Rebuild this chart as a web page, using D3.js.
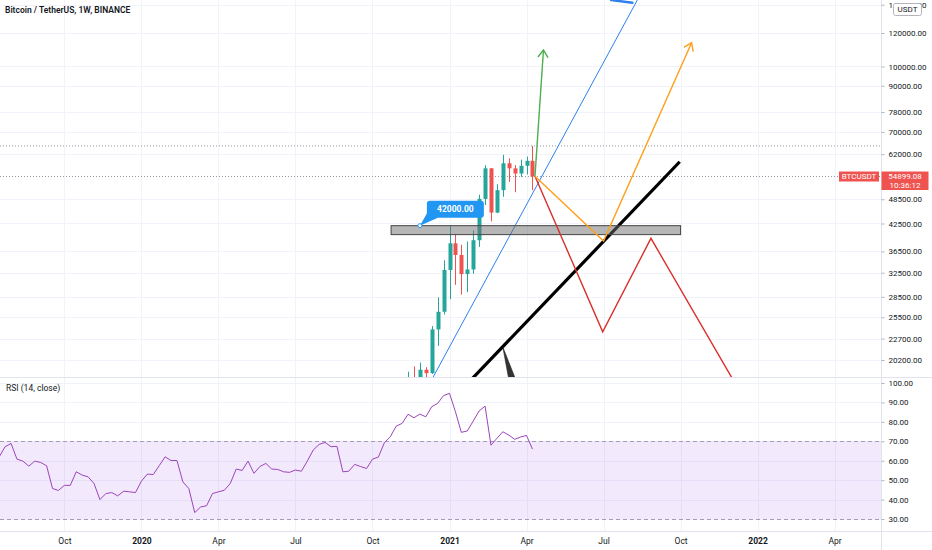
<!DOCTYPE html>
<html>
<head>
<meta charset="utf-8">
<script src="https://cdn.jsdelivr.net/npm/d3@7"></script>
<style>
  body { margin: 0; background: #fff; }
  svg { display: block; font-family: Roboto, "Noto Sans", sans-serif; }
</style>
</head>
<body>
<svg id="chart" width="932" height="550"></svg>
<script>
//---------------------DATA--------------------------------

// weekly candles BTCUSDT (only the ones that reach into the visible price range)
var candleDates = ['2020-11-16','2020-11-23','2020-11-30','2020-12-07','2020-12-14','2020-12-21','2020-12-28',
  '2021-01-04','2021-01-11','2021-01-18','2021-01-25','2021-02-01','2021-02-08','2021-02-15','2021-02-22',
  '2021-03-01','2021-03-08','2021-03-15','2021-03-22','2021-03-29','2021-04-05','2021-04-12'];
var candleOpen  = [15955,18414,18178,19155,18806,23861,26272,33000,38150,35800,32260,33090,38800,48600,57400,45100,50970,59000,57400,55800,58200,59800];
var candleHigh  = [18950,19500,19916,19420,24300,28422,34778,41950,40100,37850,38530,40955,49700,58350,57500,52640,61800,60600,58400,60200,61200,64854];
var candleLow   = [15800,16200,18110,17650,18720,21815,25880,28130,30420,28850,29240,32300,37400,47000,43000,44950,49150,53300,50400,54800,55500,51000];
var candleClose = [18414,18178,19155,18806,23861,26272,33000,38150,35800,32260,33090,38800,48600,57400,45100,50970,59000,57400,55800,58200,59800,54899.08];

var lastPrice = 54899.08;
var lastHigh = 64854;

// RSI(14) weekly, last value on the week of 2021-04-12
var rsiEndDate = '2021-04-12';
var rsiValues = [62,67.2,68.9,60.8,59.8,57.2,59.8,59.1,57.4,45.7,
  44.7,47.3,47.3,54.3,52.6,51.7,48.3,40,43.1,43.6,
  41.9,44.3,44,43.6,49.5,53.1,52.9,57.4,62,60.1,
  60.1,49.1,45.7,33.3,36.2,36.8,43.1,44,44.8,48.3,
  55.7,55,59.8,53.5,57,58.6,55.7,55.5,54.3,54,
  55.2,54.6,59.8,65.5,68.4,69.4,67.2,67.4,54.3,54.6,
  58.1,57,56,60.8,61.9,69.2,72.3,77.8,79.2,83.9,
  82.1,84,82.6,87.8,89.5,93.5,94.7,85.2,74.6,75.3,
  80.4,85.6,88.1,68,71.5,74.9,73.2,71,72.2,73,
  66];

// axis ticks
var priceTicks = [140000,120000,100000,90000,78000,70000,62000,48500,42500,36500,32500,28500,25500,22700,20200];
var rsiTicks = [100,90,80,70,60,50,40,30];
var timeTickDates = ['2019-10-07','2020-01-06','2020-04-06','2020-07-06','2020-10-05','2021-01-04','2021-04-05','2021-07-05','2021-10-04','2022-01-03','2022-04-04'];
var timeTickLabels = ['Oct','2020','Apr','Jul','Oct','2021','Apr','Jul','Oct','2022','Apr'];

// drawings, as [date, price]
var zoneDates = ['2020-10-27','2021-10-04'];
var zonePrices = [42000, 40000];
var calloutPoint = ['2020-11-30', 42000];
var calloutText = '42000.00';
var blueTrend = [['2020-12-01',16240],['2021-08-19',150000]];
var blueMark = [['2021-07-14',143600],['2021-08-08',141500]];
var greenArrow = [['2021-04-15',55000],['2021-04-25',109400]];
var orangeArrow = [['2021-04-15',55000],['2021-07-05',38620],['2021-10-17',113800]];
var redPath = [['2021-04-15',55000],['2021-07-04',23560],['2021-08-30',39200],['2022-01-05',14170]];
var blackTrend = [['2021-01-07',16270],['2021-10-03',59500]];
var blackWedge = [['2021-03-08',21680],['2021-03-15',18200],['2021-03-23',18200]];

//---------------------LAYOUT / SCALES--------------------------------

var W = 932, H = 550;
var axisX = 881.5, paneBottom = 377.5, rsiBottom = 531.5;
var parse = d3.utcParse('%Y-%m-%d');

var x = d3.scaleUtc()
  .domain([parse('2021-01-04'), parse('2022-01-03')])
  .range([449.5, 449.5 + 52 * 5.925]);
var y = d3.scaleLog().domain([120000, 20200]).range([33, 360]);
var yRsi = d3.scaleLinear().domain([100, 30]).range([383, 519]);

var svg = d3.select('#chart');
var pt = function(d) { return [x(parse(d[0])), y(d[1])]; };

var defs = svg.append('defs');
defs.append('clipPath').attr('id', 'pricePane')
  .append('rect').attr('x', 0).attr('y', 0).attr('width', axisX).attr('height', paneBottom);
defs.append('clipPath').attr('id', 'rsiPane')
  .append('rect').attr('x', 0).attr('y', paneBottom).attr('width', axisX).attr('height', rsiBottom - paneBottom);

//---------------------GRID--------------------------------

var grid = svg.append('g').attr('stroke', '#f0f3fa').attr('stroke-width', 1);
grid.selectAll('.vg').data(timeTickDates).join('line').attr('class', 'vg')
  .attr('x1', d => Math.round(x(parse(d))) + 0.5).attr('x2', d => Math.round(x(parse(d))) + 0.5)
  .attr('y1', 0).attr('y2', rsiBottom);
grid.selectAll('.hg').data(priceTicks).join('line').attr('class', 'hg')
  .attr('x1', 0).attr('x2', axisX)
  .attr('y1', d => Math.round(y(d)) + 0.5).attr('y2', d => Math.round(y(d)) + 0.5);
grid.selectAll('.rg').data(rsiTicks).join('line').attr('class', 'rg')
  .attr('x1', 0).attr('x2', axisX)
  .attr('y1', d => Math.round(yRsi(d)) + 0.5).attr('y2', d => Math.round(yRsi(d)) + 0.5);

//---------------------PRICE PANE--------------------------------

var price = svg.append('g').attr('clip-path', 'url(#pricePane)');

// dotted high line and last price line
price.append('line').attr('x1', 0).attr('x2', axisX)
  .attr('y1', y(lastHigh)).attr('y2', y(lastHigh))
  .attr('stroke', '#9598a1').attr('stroke-dasharray', '1,2');
price.append('line').attr('x1', 0).attr('x2', axisX)
  .attr('y1', y(lastPrice)).attr('y2', y(lastPrice))
  .attr('stroke', '#9598a1').attr('stroke-dasharray', '1,2');

var candles = candleDates.map(function(d, i) {
  return { date: parse(d), o: candleOpen[i], h: candleHigh[i], l: candleLow[i], c: candleClose[i] };
});
var colorOf = d => d.c >= d.o ? '#26a69a' : '#ef5350';

price.selectAll('.wick').data(candles).join('line').attr('class', 'wick')
  .attr('x1', d => Math.round(x(d.date)) + 0.5).attr('x2', d => Math.round(x(d.date)) + 0.5)
  .attr('y1', d => y(d.h)).attr('y2', d => y(d.l))
  .attr('stroke', colorOf);
price.selectAll('.body').data(candles).join('rect').attr('class', 'body')
  .attr('x', d => Math.round(x(d.date)) - 1.5).attr('width', 4)
  .attr('y', d => Math.min(y(d.o), y(d.c)))
  .attr('height', d => Math.max(1, Math.abs(y(d.o) - y(d.c))))
  .attr('fill', colorOf);

// blue trend line
var line = d3.line();
price.append('path').attr('d', line(blueTrend.map(pt)))
  .attr('fill', 'none').attr('stroke', '#2f80ed').attr('stroke-width', 1);
price.append('path').attr('d', line(blueMark.map(pt)))
  .attr('fill', 'none').attr('stroke', '#2f80ed').attr('stroke-width', 2.5).attr('stroke-linecap', 'round');

// black trend line + wedge
price.append('path').attr('d', line(blackTrend.map(pt)))
  .attr('fill', 'none').attr('stroke', '#000').attr('stroke-width', 3.2);
price.append('path').attr('d', line(blackWedge.map(pt)) + 'Z')
  .attr('fill', '#333').attr('stroke', '#222').attr('stroke-width', 0.6);

// support zone
price.append('rect')
  .attr('x', x(parse(zoneDates[0]))).attr('width', x(parse(zoneDates[1])) - x(parse(zoneDates[0])))
  .attr('y', y(zonePrices[0])).attr('height', y(zonePrices[1]) - y(zonePrices[0]))
  .attr('fill', 'rgba(110,110,110,0.5)').attr('stroke', '#444').attr('stroke-width', 1);

// scenario paths
function arrowHead(p0, p1, len) {
  var a = Math.atan2(p1[1] - p0[1], p1[0] - p0[0]);
  return [[p1[0] - len * Math.cos(a - 0.6), p1[1] - len * Math.sin(a - 0.6)], p1,
          [p1[0] - len * Math.cos(a + 0.6), p1[1] - len * Math.sin(a + 0.6)]];
}
function drawArrow(points, color, head) {
  var p = points.map(pt);
  price.append('path').attr('d', line(p))
    .attr('fill', 'none').attr('stroke', color).attr('stroke-width', 1.4).attr('stroke-linejoin', 'miter');
  if (head) {
    price.append('path').attr('d', line(arrowHead(p[p.length - 2], p[p.length - 1], 9)))
      .attr('fill', 'none').attr('stroke', color).attr('stroke-width', 1.4);
  }
}
drawArrow(redPath, '#d9302c', false);
drawArrow(orangeArrow, '#ff9f1a', true);
drawArrow(greenArrow, '#4caf50', true);

// callout
var cp = pt(calloutPoint);
var callout = price.append('g').attr('transform', 'translate(' + cp[0] + ',' + cp[1] + ')');
callout.append('path').attr('d', 'M0,0L8,-14L18,-8Z').attr('fill', '#2196f3');
callout.append('rect').attr('x', 7).attr('y', -25).attr('width', 57).attr('height', 17)
  .attr('rx', 3).attr('fill', '#2196f3');
callout.append('text').attr('x', 35.5).attr('y', -16.5).attr('dy', '0.35em')
  .attr('text-anchor', 'middle').attr('fill', '#fff').attr('font-size', 8.5).attr('font-weight', 700)
  .text(calloutText);
callout.append('circle').attr('r', 2).attr('fill', '#fff').attr('stroke', '#2196f3').attr('stroke-width', 1);

//---------------------RSI PANE--------------------------------

var rsi = svg.append('g').attr('clip-path', 'url(#rsiPane)');
rsi.append('rect').attr('x', 0).attr('width', axisX)
  .attr('y', yRsi(70)).attr('height', yRsi(30) - yRsi(70))
  .attr('fill', 'rgba(149,76,233,0.12)');
rsi.selectAll('.band').data([70, 30]).join('line').attr('class', 'band')
  .attr('x1', 0).attr('x2', axisX)
  .attr('y1', d => Math.round(yRsi(d)) + 0.5).attr('y2', d => Math.round(yRsi(d)) + 0.5)
  .attr('stroke', '#a99bb8').attr('stroke-dasharray', '4,3');

var rsiEnd = parse(rsiEndDate);
var n = rsiValues.length;
var rsiLine = d3.line()
  .x((d, i) => x(d3.utcWeek.offset(rsiEnd, i - n + 1)))
  .y(d => yRsi(d));
rsi.append('path').attr('d', rsiLine(rsiValues))
  .attr('fill', 'none').attr('stroke', '#9b45b8').attr('stroke-width', 1);

svg.append('text').attr('x', 6).attr('y', 388.5).attr('dy', '0.35em')
  .attr('font-size', 8.5).attr('fill', '#131722').text('RSI (14, close)');

//---------------------SEPARATORS & AXES--------------------------------

var sep = svg.append('g').attr('stroke', '#e0e3eb');
sep.append('line').attr('x1', axisX).attr('x2', axisX).attr('y1', 0).attr('y2', H);
sep.append('line').attr('x1', 0).attr('x2', W).attr('y1', paneBottom).attr('y2', paneBottom);
sep.append('line').attr('x1', 0).attr('x2', W).attr('y1', rsiBottom).attr('y2', rsiBottom);

function styleAxis(g) {
  g.select('.domain').remove();
  g.selectAll('.tick line').attr('stroke', '#b2b5be');
  g.selectAll('.tick text').attr('fill', '#131722').attr('font-size', 8)
    .attr('font-family', 'Roboto, "Noto Sans", sans-serif');
}

svg.append('g').attr('transform', 'translate(' + axisX + ',0)')
  .call(d3.axisRight(y).tickValues(priceTicks).tickFormat(d3.format('.2f')).tickSize(3).tickPadding(4))
  .call(styleAxis);

svg.append('g').attr('transform', 'translate(' + axisX + ',0)')
  .call(d3.axisRight(yRsi).tickValues(rsiTicks).tickFormat(d3.format('.2f')).tickSize(3).tickPadding(4))
  .call(styleAxis);

svg.append('g').attr('transform', 'translate(0,' + rsiBottom + ')')
  .call(d3.axisBottom(x).tickValues(timeTickDates.map(parse))
    .tickFormat((d, i) => timeTickLabels[i]).tickSize(0).tickPadding(6))
  .call(styleAxis)
  .call(g => g.selectAll('.tick text').attr('font-size', 8.5)
    .attr('font-weight', (d, i) => /^\d{4}$/.test(timeTickLabels[i]) ? 700 : 400));

//---------------------LABELS--------------------------------

// USDT unit box
svg.append('rect').attr('x', 893.5).attr('y', 3.5).attr('width', 28).attr('height', 12)
  .attr('rx', 2).attr('fill', '#fff').attr('stroke', '#b2b5be');
svg.append('text').attr('x', 907.5).attr('y', 9.5).attr('dy', '0.35em').attr('text-anchor', 'middle')
  .attr('font-size', 8).attr('fill', '#131722').text('USDT');

// last price labels
var ly = y(lastPrice);
svg.append('rect').attr('x', 839).attr('y', ly - 5).attr('width', 40).attr('height', 10).attr('fill', '#ef5350');
svg.append('text').attr('x', 859).attr('y', ly).attr('dy', '0.35em').attr('text-anchor', 'middle')
  .attr('font-size', 8).attr('fill', '#fff').text('BTCUSDT');
svg.append('rect').attr('x', axisX).attr('y', ly - 5).attr('width', 47).attr('height', 18.5).attr('fill', '#ef5350');
svg.append('text').attr('x', 905).attr('y', ly).attr('dy', '0.35em').attr('text-anchor', 'middle')
  .attr('font-size', 8).attr('fill', '#fff').text(d3.format('.2f')(lastPrice));
svg.append('text').attr('x', 905).attr('y', ly + 9).attr('dy', '0.35em').attr('text-anchor', 'middle')
  .attr('font-size', 8).attr('fill', '#fff').text('10:36:12');

// title
svg.append('text').attr('x', 5).attr('y', 10.5).attr('dy', '0.35em')
  .attr('font-size', 8.5).attr('font-weight', 600).attr('fill', '#131722')
  .text('Bitcoin / TetherUS, 1W, BINANCE');
</script>
</body>
</html>
